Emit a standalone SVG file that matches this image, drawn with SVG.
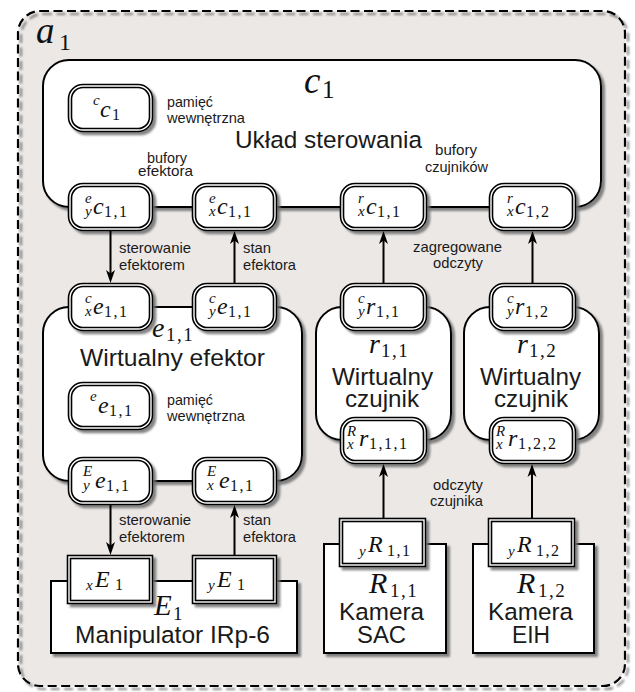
<svg xmlns="http://www.w3.org/2000/svg" width="635" height="692" viewBox="0 0 635 692">
<defs>
<filter id="ds" x="-10%" y="-10%" width="130%" height="130%">
<feDropShadow dx="3" dy="3" stdDeviation="0.8" flood-color="#6e6e6e" flood-opacity="0.85"/>
</filter>
<marker id="arr" markerWidth="14" markerHeight="10" refX="9" refY="5" orient="auto" markerUnits="userSpaceOnUse">
<path d="M0,0.5 L13,5 L0,9.5 L3.5,5 Z" fill="#000"/>
</marker>
</defs>
<style>
.outerfill{fill:#ebe8e6;stroke:none}
.outerline{fill:none;stroke:#000;stroke-width:2.2;stroke-dasharray:9 4.5;filter:url(#ds)}
.body{fill:#fff;stroke:#000;stroke-width:2;filter:url(#ds)}
.dbo{fill:#fff;stroke:#000;stroke-width:4.6;filter:url(#ds)}
.dbi{fill:none;stroke:#fff;stroke-width:1.4}
.conn{fill:none;stroke:#000;stroke-width:2;marker-end:url(#arr)}
.sm{font-family:"Liberation Sans",Arial,sans-serif;font-size:14.5px;fill:#1a1a1a}
.lg{font-family:"Liberation Sans",Arial,sans-serif;font-size:24.5px;fill:#1a1a1a}
.m{font-family:"Liberation Serif","Times New Roman",serif;fill:#111}
.ps{font-style:italic;font-size:15px}
.mm{font-style:italic;font-size:24px}
.sb{font-style:normal;font-size:16px;letter-spacing:1.5px}
.bi{font-style:italic}
.bs{font-style:normal;letter-spacing:1.5px}
</style>

<g id="a1">
<rect class="outerfill" x="18" y="11" width="607" height="675" rx="22"/>
<rect class="outerline" x="18" y="11" width="607" height="675" rx="22"/>
<text class="m"><tspan class="bi" x="36" y="43" font-size="37">a</tspan><tspan x="59" y="50" font-size="24">1</tspan></text>
</g>

<g id="c1">
<rect class="body" x="43" y="60" width="558" height="147" rx="26"/>
<text class="m"><tspan class="bi" x="304" y="93" font-size="37">c</tspan><tspan x="322" y="98" font-size="25">1</tspan></text>
<text class="lg" x="235" y="148" textLength="187" lengthAdjust="spacingAndGlyphs">Układ sterowania</text>
<text class="sm" x="167" y="107" textLength="46" lengthAdjust="spacingAndGlyphs">pamięć</text>
<text class="sm" x="167" y="123" textLength="78" lengthAdjust="spacingAndGlyphs">wewnętrzna</text>
<text class="sm" x="147" y="163" textLength="40" lengthAdjust="spacingAndGlyphs">bufory</text>
<text class="sm" x="138" y="176" textLength="55" lengthAdjust="spacingAndGlyphs">efektora</text>
<text class="sm" x="435" y="155" textLength="42" lengthAdjust="spacingAndGlyphs">bufory</text>
<text class="sm" x="425" y="172" textLength="63" lengthAdjust="spacingAndGlyphs">czujników</text>
</g>

<g id="cc1">
<rect class="dbo" x="70" y="86" width="81" height="44" rx="13"/>
<rect class="dbi" x="70" y="86" width="81" height="44" rx="13"/>
<text class="m"><tspan class="ps" x="93" y="105">c</tspan><tspan class="mm" x="100" y="117">c</tspan><tspan class="sb" x="112" y="120">1</tspan></text>
</g>

<g id="e11">
<rect class="body" x="43" y="307" width="259" height="174" rx="26"/>
<text class="m"><tspan class="bi" x="152" y="337" font-size="28">e</tspan><tspan class="bs" x="166" y="341" font-size="19">1,1</tspan></text>
<text class="lg" x="80" y="366" textLength="185" lengthAdjust="spacingAndGlyphs">Wirtualny efektor</text>
<text class="sm" x="167" y="405" textLength="46" lengthAdjust="spacingAndGlyphs">pamięć</text>
<text class="sm" x="167" y="421" textLength="78" lengthAdjust="spacingAndGlyphs">wewnętrzna</text>
</g>

<g id="r11">
<rect class="body" x="316" y="307" width="135" height="133" rx="26"/>
<text class="m"><tspan class="bi" x="369" y="353" font-size="28">r</tspan><tspan class="bs" x="381" y="357" font-size="19">1,1</tspan></text>
<text class="lg" x="332" y="385" textLength="101" lengthAdjust="spacingAndGlyphs">Wirtualny</text>
<text class="lg" x="345" y="407" textLength="74" lengthAdjust="spacingAndGlyphs">czujnik</text>
</g>

<g id="r12">
<rect class="body" x="464" y="307" width="135" height="133" rx="26"/>
<text class="m"><tspan class="bi" x="517" y="353" font-size="28">r</tspan><tspan class="bs" x="529" y="357" font-size="19">1,2</tspan></text>
<text class="lg" x="480" y="385" textLength="101" lengthAdjust="spacingAndGlyphs">Wirtualny</text>
<text class="lg" x="494" y="407" textLength="74" lengthAdjust="spacingAndGlyphs">czujnik</text>
</g>

<g id="E1">
<rect class="body" x="51" y="581" width="246" height="72"/>
<text class="m"><tspan class="bi" x="154" y="615" font-size="29">E</tspan><tspan x="173" y="620" font-size="19">1</tspan></text>
<text class="lg" x="75" y="643" textLength="195" lengthAdjust="spacingAndGlyphs">Manipulator IRp-6</text>
</g>

<g id="R11">
<rect class="body" x="324" y="544" width="122" height="109"/>
<text class="m"><tspan class="bi" x="369" y="593" font-size="30">R</tspan><tspan class="bs" x="390" y="597" font-size="19">1,1</tspan></text>
<text class="lg" x="339" y="620" textLength="85" lengthAdjust="spacingAndGlyphs">Kamera</text>
<text class="lg" x="357" y="643" textLength="49" lengthAdjust="spacingAndGlyphs">SAC</text>
</g>

<g id="R12">
<rect class="body" x="473" y="544" width="121" height="109"/>
<text class="m"><tspan class="bi" x="517" y="593" font-size="30">R</tspan><tspan class="bs" x="538" y="597" font-size="19">1,2</tspan></text>
<text class="lg" x="488" y="620" textLength="85" lengthAdjust="spacingAndGlyphs">Kamera</text>
<text class="lg" x="512" y="643" textLength="38" lengthAdjust="spacingAndGlyphs">EIH</text>
</g>

<g id="ecy11">
<rect class="dbo" x="70" y="185" width="81" height="44" rx="13"/>
<rect class="dbi" x="70" y="185" width="81" height="44" rx="13"/>
<text class="m"><tspan class="ps" x="85" y="203">e</tspan><tspan class="ps" x="85" y="216">y</tspan><tspan class="mm" x="93" y="214">c</tspan><tspan class="sb" x="104" y="217">1,1</tspan></text>
</g>
<g id="ecx11">
<rect class="dbo" x="194" y="185" width="81" height="44" rx="13"/>
<rect class="dbi" x="194" y="185" width="81" height="44" rx="13"/>
<text class="m"><tspan class="ps" x="209" y="203">e</tspan><tspan class="ps" x="209" y="216">x</tspan><tspan class="mm" x="217" y="214">c</tspan><tspan class="sb" x="228" y="217">1,1</tspan></text>
</g>
<g id="rcx11">
<rect class="dbo" x="342" y="185" width="83" height="44" rx="13"/>
<rect class="dbi" x="342" y="185" width="83" height="44" rx="13"/>
<text class="m"><tspan class="ps" x="358" y="203">r</tspan><tspan class="ps" x="358" y="216">x</tspan><tspan class="mm" x="366" y="214">c</tspan><tspan class="sb" x="377" y="217">1,1</tspan></text>
</g>
<g id="rcx12">
<rect class="dbo" x="491" y="185" width="83" height="44" rx="13"/>
<rect class="dbi" x="491" y="185" width="83" height="44" rx="13"/>
<text class="m"><tspan class="ps" x="507" y="203">r</tspan><tspan class="ps" x="507" y="216">x</tspan><tspan class="mm" x="515" y="214">c</tspan><tspan class="sb" x="526" y="217">1,2</tspan></text>
</g>

<g id="cex11">
<rect class="dbo" x="70" y="285" width="81" height="44" rx="13"/>
<rect class="dbi" x="70" y="285" width="81" height="44" rx="13"/>
<text class="m"><tspan class="ps" x="85" y="303">c</tspan><tspan class="ps" x="85" y="316">x</tspan><tspan class="mm" x="93" y="314">e</tspan><tspan class="sb" x="104" y="317">1,1</tspan></text>
</g>
<g id="cey11">
<rect class="dbo" x="194" y="285" width="81" height="44" rx="13"/>
<rect class="dbi" x="194" y="285" width="81" height="44" rx="13"/>
<text class="m"><tspan class="ps" x="209" y="303">c</tspan><tspan class="ps" x="209" y="316">y</tspan><tspan class="mm" x="217" y="314">e</tspan><tspan class="sb" x="228" y="317">1,1</tspan></text>
</g>
<g id="cry11">
<rect class="dbo" x="342" y="285" width="83" height="44" rx="13"/>
<rect class="dbi" x="342" y="285" width="83" height="44" rx="13"/>
<text class="m"><tspan class="ps" x="358" y="303">c</tspan><tspan class="ps" x="358" y="316">y</tspan><tspan class="mm" x="366" y="314">r</tspan><tspan class="sb" x="376" y="317">1,1</tspan></text>
</g>
<g id="cry12">
<rect class="dbo" x="491" y="285" width="83" height="44" rx="13"/>
<rect class="dbi" x="491" y="285" width="83" height="44" rx="13"/>
<text class="m"><tspan class="ps" x="507" y="303">c</tspan><tspan class="ps" x="507" y="316">y</tspan><tspan class="mm" x="515" y="314">r</tspan><tspan class="sb" x="525" y="317">1,2</tspan></text>
</g>

<g id="ee11">
<rect class="dbo" x="70" y="384" width="81" height="44" rx="13"/>
<rect class="dbi" x="70" y="384" width="81" height="44" rx="13"/>
<text class="m"><tspan class="ps" x="90" y="401">e</tspan><tspan class="mm" x="98" y="413">e</tspan><tspan class="sb" x="109" y="416">1,1</tspan></text>
</g>

<g id="Rrx111">
<rect class="dbo" x="342" y="419" width="83" height="43" rx="13"/>
<rect class="dbi" x="342" y="419" width="83" height="43" rx="13"/>
<text class="m"><tspan class="ps" x="347" y="436">R</tspan><tspan class="ps" x="347" y="449">x</tspan><tspan class="mm" x="359" y="446">r</tspan><tspan class="sb" x="369" y="449">1,1,1</tspan></text>
</g>
<g id="Rrx122">
<rect class="dbo" x="491" y="419" width="83" height="43" rx="13"/>
<rect class="dbi" x="491" y="419" width="83" height="43" rx="13"/>
<text class="m"><tspan class="ps" x="496" y="436">R</tspan><tspan class="ps" x="496" y="449">x</tspan><tspan class="mm" x="508" y="446">r</tspan><tspan class="sb" x="518" y="449">1,2,2</tspan></text>
</g>

<g id="Eey11">
<rect class="dbo" x="70" y="459" width="81" height="44" rx="13"/>
<rect class="dbi" x="70" y="459" width="81" height="44" rx="13"/>
<text class="m"><tspan class="ps" x="83" y="476">E</tspan><tspan class="ps" x="83" y="490">y</tspan><tspan class="mm" x="95" y="488">e</tspan><tspan class="sb" x="106" y="491">1,1</tspan></text>
</g>
<g id="Eex11">
<rect class="dbo" x="194" y="459" width="81" height="44" rx="13"/>
<rect class="dbi" x="194" y="459" width="81" height="44" rx="13"/>
<text class="m"><tspan class="ps" x="207" y="476">E</tspan><tspan class="ps" x="207" y="490">x</tspan><tspan class="mm" x="219" y="488">e</tspan><tspan class="sb" x="230" y="491">1,1</tspan></text>
</g>

<g id="xE1">
<rect class="dbo" x="69" y="557" width="82" height="45"/>
<rect class="dbi" x="69" y="557" width="82" height="45"/>
<text class="m"><tspan class="ps" x="86" y="590">x</tspan><tspan class="mm" x="95" y="587" font-size="28">E</tspan><tspan class="sb" x="115" y="590" font-size="17">1</tspan></text>
</g>
<g id="yE1">
<rect class="dbo" x="194" y="557" width="81" height="45"/>
<rect class="dbi" x="194" y="557" width="81" height="45"/>
<text class="m"><tspan class="ps" x="208" y="590">y</tspan><tspan class="mm" x="217" y="587" font-size="28">E</tspan><tspan class="sb" x="237" y="590" font-size="17">1</tspan></text>
</g>

<g id="yR11">
<rect class="dbo" x="341" y="520" width="83" height="45"/>
<rect class="dbi" x="341" y="520" width="83" height="45"/>
<text class="m"><tspan class="ps" x="359" y="556">y</tspan><tspan class="mm" x="368" y="552" font-size="27">R</tspan><tspan class="sb" x="387" y="556">1,1</tspan></text>
</g>
<g id="yR12">
<rect class="dbo" x="490" y="520" width="83" height="45"/>
<rect class="dbi" x="490" y="520" width="83" height="45"/>
<text class="m"><tspan class="ps" x="508" y="556">y</tspan><tspan class="mm" x="517" y="552" font-size="27">R</tspan><tspan class="sb" x="536" y="556">1,2</tspan></text>
</g>

<g id="connectors">
<line class="conn" x1="110.5" y1="231" x2="110.5" y2="279"/>
<line class="conn" x1="234.5" y1="283" x2="234.5" y2="235"/>
<line class="conn" x1="383.5" y1="283" x2="383.5" y2="235"/>
<line class="conn" x1="532.5" y1="283" x2="532.5" y2="235"/>
<line class="conn" x1="110.5" y1="505" x2="110.5" y2="551"/>
<line class="conn" x1="234.5" y1="555" x2="234.5" y2="509"/>
<line class="conn" x1="383.5" y1="518" x2="383.5" y2="468"/>
<line class="conn" x1="532" y1="518" x2="532" y2="468"/>
<text class="sm" x="119" y="253" textLength="72" lengthAdjust="spacingAndGlyphs">sterowanie</text>
<text class="sm" x="119" y="270" textLength="66" lengthAdjust="spacingAndGlyphs">efektorem</text>
<text class="sm" x="243" y="253" textLength="28" lengthAdjust="spacingAndGlyphs">stan</text>
<text class="sm" x="243" y="270" textLength="53" lengthAdjust="spacingAndGlyphs">efektora</text>
<text class="sm" x="413" y="252" textLength="89" lengthAdjust="spacingAndGlyphs">zagregowane</text>
<text class="sm" x="433" y="268" textLength="50" lengthAdjust="spacingAndGlyphs">odczyty</text>
<text class="sm" x="433" y="490" textLength="50" lengthAdjust="spacingAndGlyphs">odczyty</text>
<text class="sm" x="430" y="506" textLength="53" lengthAdjust="spacingAndGlyphs">czujnika</text>
<text class="sm" x="119" y="525" textLength="72" lengthAdjust="spacingAndGlyphs">sterowanie</text>
<text class="sm" x="119" y="542" textLength="66" lengthAdjust="spacingAndGlyphs">efektorem</text>
<text class="sm" x="243" y="525" textLength="28" lengthAdjust="spacingAndGlyphs">stan</text>
<text class="sm" x="243" y="542" textLength="53" lengthAdjust="spacingAndGlyphs">efektora</text>
</g>
</svg>
